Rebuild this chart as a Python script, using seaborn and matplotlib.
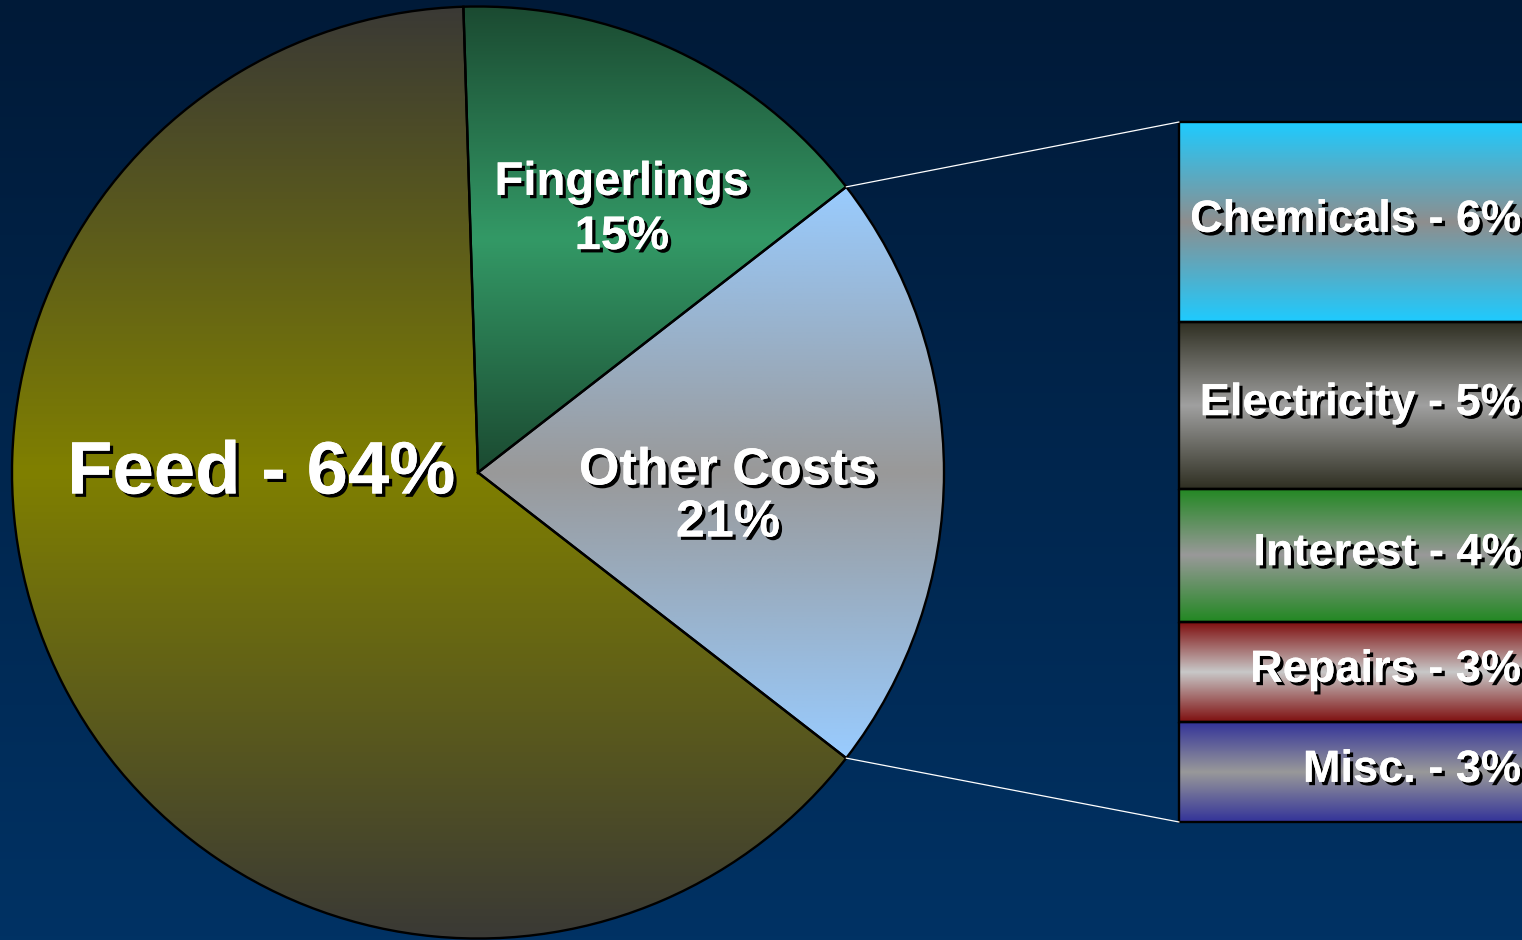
import numpy as np
import matplotlib
matplotlib.use("Agg")
import matplotlib.pyplot as plt
import matplotlib.transforms as mtrans
from matplotlib import patheffects as pe
from matplotlib.patches import ConnectionPatch
import seaborn as sns

# ---------------- data ----------------
main_labels = ["Other Costs", "Fingerlings", "Feed"]
main_values = [21, 15, 64]
detail_labels = ["Chemicals", "Electricity", "Interest", "Repairs", "Misc."]
detail_values = [6, 5, 4, 3, 3]

# gradient colours (edge -> middle -> edge)
main_edge = ["#99ccff", "#1b4a31", "#3a3935"]
main_mid = ["#999999", "#339966", "#808000"]
detail_edge = ["#1ecbff", "#2f2f22", "#228822", "#7f0f0f", "#333399"]
detail_mid = ["#8e8e8e", "#a0a0a0", "#999999", "#c8c8c8", "#999999"]

# ---------------- style ----------------
sns.set_theme(style="white")
plt.rcParams["font.family"] = ["Liberation Sans", "DejaVu Sans"]
plt.rcParams["font.weight"] = "bold"

W, H = 1522, 940
fig = plt.figure(figsize=(W / 100, H / 100), dpi=100)

shadow = [pe.withSimplePatchShadow(offset=(2.4, -2.4), shadow_rgbFace="black", alpha=1.0),
          pe.Normal()]
grad = np.linspace(0, 1, 256)[:, None]

# background gradient
bg = fig.add_axes([0, 0, 1, 1], zorder=0)
bg.axis("off")
bg_cmap = sns.blend_palette(["#001a38", "#003264"], as_cmap=True)
bg.imshow(grad, aspect="auto", cmap=bg_cmap, extent=[0, 1, 0, 1])
bg.set_xlim(0, 1)
bg.set_ylim(0, 1)

# ---------------- pie ----------------
ax = fig.add_axes([0, 0, 1, 1], zorder=1)
ax.patch.set_alpha(0)
cx, cy, R = 478, 467.5, 466
start = -main_values[0] / sum(main_values) * 360 / 2
wedges, _ = ax.pie(main_values, center=(cx, cy), radius=R, startangle=start,
                   counterclock=True, frame=True,
                   wedgeprops=dict(edgecolor="black", linewidth=1.7, facecolor="none", zorder=3))
for w, e, m in zip(wedges, main_edge, main_mid):
    ext = w.get_path().get_extents()
    cmap = sns.blend_palette([e, m, e], as_cmap=True)
    im = ax.imshow(grad, aspect="auto", cmap=cmap,
                   extent=[ext.x0, ext.x1, ext.y0, ext.y1], zorder=2)
    im.set_clip_path(w)
ax.set_xlim(0, W)
ax.set_ylim(0, H)
ax.axis("off")

ax.text(261, H - 474, f"{main_labels[2]} - {main_values[2]}%", color="white",
        fontsize=53.5, fontweight="bold", ha="center", va="center", path_effects=shadow, zorder=5)
ax.text(622, H - 210, f"{main_labels[1]}\n{main_values[1]}%", color="white",
        fontsize=34, fontweight="bold", ha="center", va="center", path_effects=shadow,
        zorder=5, linespacing=1.3)
ax.text(728, H - 497, f"{main_labels[0]}\n{main_values[0]}%", color="white",
        fontsize=37.5, fontweight="bold", ha="center", va="center", path_effects=shadow,
        zorder=5, linespacing=1.08)

# ---------------- breakdown bar ----------------
total = sum(detail_values)
ax2 = fig.add_axes([1179 / W, (H - 822) / H, 0.24, 700 / H], zorder=2)
ax2.patch.set_alpha(0)
ax2.set_xlim(-0.5, 0.5)
ax2.set_ylim(total, 0)
bottoms = np.cumsum([0] + detail_values[:-1])
bars = ax2.bar(0, detail_values, bottom=bottoms, width=1.0, facecolor="none",
               edgecolor="black", linewidth=1.7, zorder=3, clip_on=False)
for b, e, m in zip(bars, detail_edge, detail_mid):
    cmap = sns.blend_palette([e, m, e], as_cmap=True)
    im = ax2.imshow(grad, aspect="auto", cmap=cmap,
                    extent=[b.get_x(), b.get_x() + b.get_width(),
                            b.get_y() + b.get_height(), b.get_y()], zorder=2)
    im.set_clip_path(b)
ax2.set_xlim(-0.5, 0.5)
ax2.set_ylim(total, 0)
ax2.axis("off")

tr = mtrans.blended_transform_factory(fig.transFigure, ax2.transData)
for lab, v, b0 in zip(detail_labels, detail_values, bottoms):
    ax2.text(1521 / W, b0 + v / 2 - 0.05, f"{lab} - {v}%", transform=tr, color="white",
             fontsize=32.5, fontweight="bold", ha="right", va="center",
             path_effects=shadow, zorder=5, clip_on=False)

# connector lines
theta = np.deg2rad(-start)
for sgn, yb in [(1, 0), (-1, total)]:
    con = ConnectionPatch(xyA=(cx + R * np.cos(theta), cy + sgn * R * np.sin(theta)),
                          coordsA=ax.transData, xyB=(-0.5, yb), coordsB=ax2.transData,
                          color="white", linewidth=0.9, zorder=4)
    fig.add_artist(con)

fig.savefig("out.png", dpi=100)
